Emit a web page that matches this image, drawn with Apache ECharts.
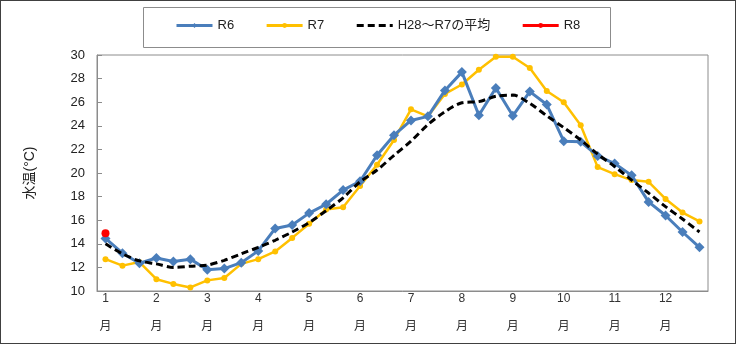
<!DOCTYPE html>
<html>
<head>
<meta charset="utf-8">
<script src="https://cdn.jsdelivr.net/npm/echarts@6/dist/echarts.min.js"></script>
<style>
html,body{margin:0;padding:0;background:#fff;}
#wrap{position:relative;width:736px;height:344px;}
#chart{position:absolute;left:0;top:0;width:736px;height:344px;}
#frame{position:absolute;left:0;top:0;width:736px;height:344px;box-sizing:border-box;border:1px solid #404040;pointer-events:none;}
</style>
</head>
<body>
<div id="wrap"><div id="chart"></div><div id="frame"></div></div>
<script>
// 月 (tick labels) and 上中下旬 categories
var months = ['1','2','3','4','5','6','7','8','9','10','11','12'];
var periods = ['上旬','中旬','下旬'];
var categories = [];
months.forEach(function(m){ periods.forEach(function(p){ categories.push(m + '月' + p); }); });

var r6 = [14.45, 13.2, 12.35, 12.8, 12.5, 12.7, 11.8, 11.9, 12.4, 13.4, 15.3, 15.6,
          16.6, 17.35, 18.55, 19.3, 21.5, 23.2, 24.45, 24.8, 27.0, 28.55, 24.9, 27.2,
          24.85, 26.9, 25.8, 22.7, 22.65, 21.45, 20.8, 19.8, 17.55, 16.4, 15.0, 13.7];
var r7 = [12.7, 12.15, 12.45, 11.0, 10.6, 10.3, 10.9, 11.1, 12.3, 12.7, 13.35, 14.5,
          15.7, 16.9, 17.1, 18.9, 20.7, 22.8, 25.4, 24.8, 26.7, 27.5, 28.75, 29.85,
          29.85, 28.9, 26.95, 26.0, 24.05, 20.5, 19.9, 19.4, 19.25, 17.8, 16.65, 15.9];
var avg = [14.0, 13.15, 12.55, 12.3, 12.0, 12.1, 12.2, 12.6, 13.15, 13.7, 14.3, 15.0,
           15.8, 16.8, 17.9, 19.25, 20.25, 21.5, 22.7, 24.1, 25.2, 25.95, 26.05, 26.5,
           26.6, 25.9, 24.85, 23.85, 22.8, 21.6, 20.55, 19.4, 18.3, 17.15, 16.1, 15.0];
var r8 = [14.9];

var seriesNames = ['R6', 'R7', 'H28～R7の平均', 'R8'];
var yTicks = {min: 10, max: 30, step: 2};

var FONT = '"Liberation Sans", "Noto Sans CJK JP", sans-serif';
var chart = echarts.init(document.getElementById('chart'), null, {renderer: 'canvas'});
chart.setOption({
  animation: false,
  backgroundColor: '#fff',
  textStyle: {fontFamily: FONT},
  graphic: [{
    type: 'rect', left: 141, top: 5, shape: {width: 467, height: 40},
    style: {fill: 'none', stroke: '#8c8c8c', lineWidth: 1}, z: -1
  }],
  legend: {
    left: 175, top: 19, padding: 0, itemGap: 31, itemWidth: 36, itemHeight: 6,
    lineStyle: {width: 3},
    textStyle: {fontFamily: FONT, fontSize: 13, color: '#222'},
    data: [
      {name: seriesNames[0]},
      {name: seriesNames[1]},
      {name: seriesNames[2], itemStyle: {opacity: 0}, textStyle: {padding: [0, 7, 0, 0]}},
      {name: seriesNames[3]}
    ]
  },
  grid: {left: 97, right: 28, top: 55, bottom: 53, show: true, borderColor: '#8c8c8c', borderWidth: 1,
         containLabel: false, outerBoundsMode: 'none'},
  xAxis: {
    type: 'category', data: categories, boundaryGap: true,
    axisLine: {lineStyle: {color: '#8c8c8c', width: 1}},
    axisTick: {inside: true, interval: 0, length: 5, lineStyle: {color: '#8c8c8c'}},
    axisLabel: {
      interval: 0, margin: 0, fontSize: 12, color: '#333', fontFamily: FONT,
      rich: {
        a: {fontSize: 12, lineHeight: 16, color: '#333', fontFamily: FONT},
        b: {fontSize: 12, lineHeight: 40, color: '#333', fontFamily: FONT}
      },
      formatter: function(v, i){ return i % 3 === 0 ? '{a|' + months[i/3] + '}\n{b|月}' : ''; }
    }
  },
  yAxis: {
    type: 'value', min: yTicks.min, max: yTicks.max, interval: yTicks.step,
    name: '水温(°C)', nameLocation: 'middle', nameRotate: 90, nameGap: 60,
    nameTextStyle: {fontSize: 14, color: '#222', fontFamily: FONT},
    axisLine: {show: true, lineStyle: {color: '#8c8c8c'}},
    axisTick: {show: true, inside: true, length: 5, lineStyle: {color: '#8c8c8c'}},
    splitLine: {show: false},
    axisLabel: {margin: 12, fontSize: 13, color: '#222', fontFamily: FONT}
  },
  series: [
    {name: seriesNames[0], type: 'line', data: r6, symbol: 'diamond', symbolSize: 10,
     lineStyle: {color: '#4A7EBB', width: 3}, itemStyle: {color: '#4A7EBB'}, z: 3},
    {name: seriesNames[1], type: 'line', data: r7, symbol: 'circle', symbolSize: 6,
     lineStyle: {color: '#FFC000', width: 2.5}, itemStyle: {color: '#FFC000'}, z: 2},
    {name: seriesNames[2], type: 'line', data: avg, symbol: 'none', smooth: 0.3,
     lineStyle: {color: '#000', width: 3, type: [7, 4]}, itemStyle: {color: '#000'}, z: 4},
    {name: seriesNames[3], type: 'line', data: r8, symbol: 'circle', symbolSize: 8,
     lineStyle: {color: '#FF0000', width: 3}, itemStyle: {color: '#FF0000'}, z: 5}
  ]
});
</script>
</body>
</html>
